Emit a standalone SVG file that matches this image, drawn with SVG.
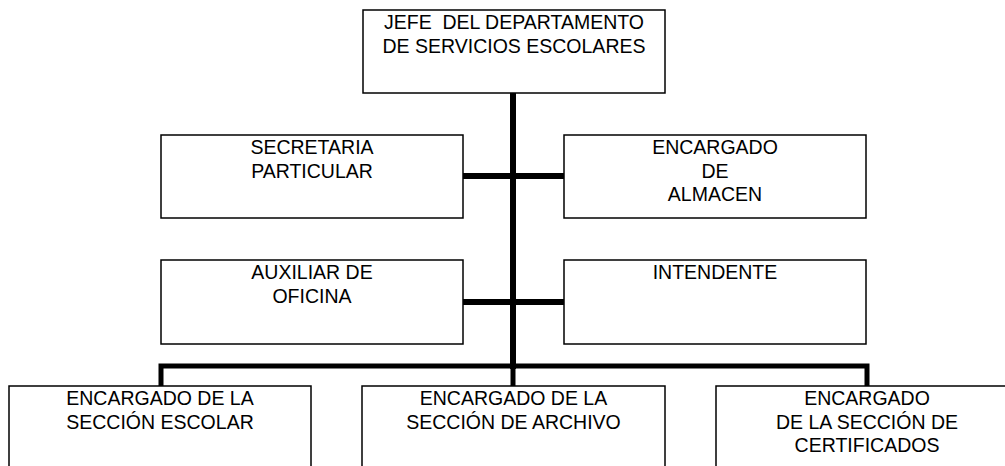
<svg xmlns="http://www.w3.org/2000/svg" width="1005" height="466" viewBox="0 0 1005 466">
<style>
.box{fill:#fff;stroke:#000;stroke-width:1.5}
.ln{stroke:#000;fill:none;stroke-linecap:butt}
text{font-family:"Liberation Sans",Arial,sans-serif;font-size:19.5px;fill:#000;text-anchor:middle;white-space:pre}
</style>
<rect width="1005" height="466" fill="#fff"/>
<g id="connectors">
<line class="ln" x1="513" y1="93" x2="513" y2="369" stroke-width="6"/>
<line class="ln" x1="463" y1="176" x2="564" y2="176" stroke-width="6"/>
<line class="ln" x1="463" y1="302" x2="564" y2="302" stroke-width="6"/>
<polyline class="ln" points="161,386 161,366 867,366 867,386" stroke-width="5"/>
<line class="ln" x1="513" y1="366" x2="513" y2="386" stroke-width="5"/>
</g>
<g id="jefe">
<rect class="box" x="363" y="10" width="302" height="83"/>
<text x="514" y="29" xml:space="preserve">JEFE  DEL DEPARTAMENTO</text>
<text x="514" y="53">DE SERVICIOS ESCOLARES</text>
</g>
<g id="secretaria">
<rect class="box" x="161" y="135" width="302" height="83"/>
<text x="312" y="154">SECRETARIA</text>
<text x="312" y="177.5">PARTICULAR</text>
</g>
<g id="almacen">
<rect class="box" x="564" y="135" width="302" height="83"/>
<text x="715" y="154">ENCARGADO</text>
<text x="715" y="177.5">DE</text>
<text x="715" y="201">ALMACEN</text>
</g>
<g id="auxiliar">
<rect class="box" x="161" y="260" width="302" height="84"/>
<text x="312" y="279">AUXILIAR DE</text>
<text x="312" y="302.5">OFICINA</text>
</g>
<g id="intendente">
<rect class="box" x="564" y="260" width="302" height="84"/>
<text x="715" y="279">INTENDENTE</text>
</g>
<g id="escolar">
<rect class="box" x="9" y="386" width="302" height="100"/>
<text x="160" y="405">ENCARGADO DE LA</text>
<text x="160" y="428.5">SECCIÓN ESCOLAR</text>
</g>
<g id="archivo">
<rect class="box" x="362" y="386" width="303" height="100"/>
<text x="513.5" y="405">ENCARGADO DE LA</text>
<text x="513.5" y="428.5">SECCIÓN DE ARCHIVO</text>
</g>
<g id="certificados">
<rect class="box" x="716" y="386" width="302" height="100"/>
<text x="867" y="405">ENCARGADO</text>
<text x="867" y="428.5">DE LA SECCIÓN DE</text>
<text x="867" y="452">CERTIFICADOS</text>
</g>
</svg>
